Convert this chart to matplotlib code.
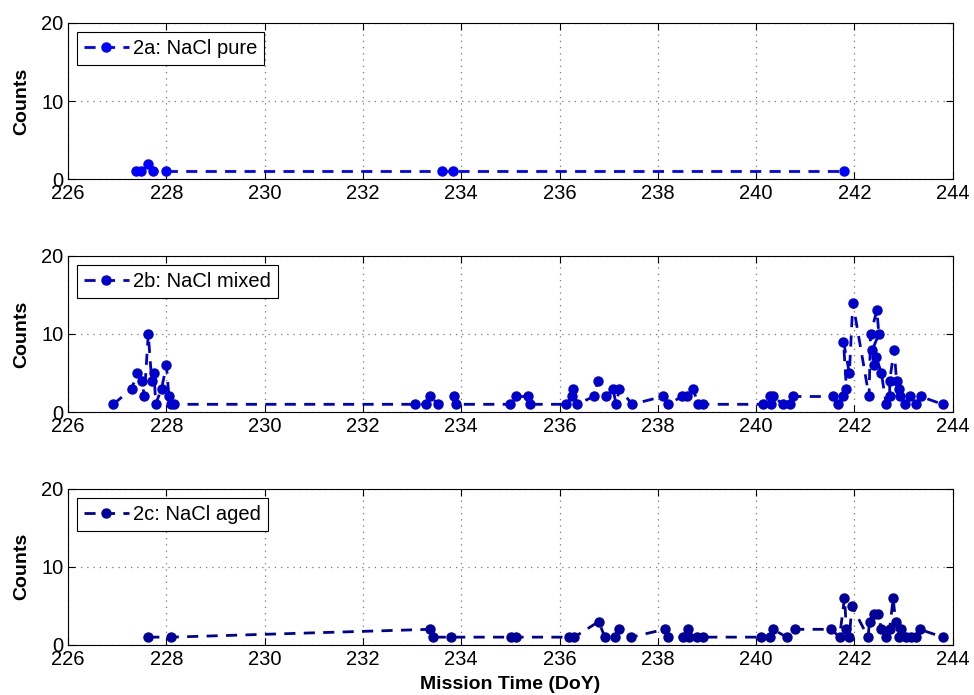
import matplotlib
matplotlib.use("Agg")
import matplotlib.pyplot as plt

plt.rcParams['font.family'] = ['Liberation Sans', 'DejaVu Sans']

# 2a: NaCl pure
doy_a = [227.38, 227.49, 227.63, 227.72, 228.0, 233.6, 233.83, 241.8]
cnt_a = [1, 1, 2, 1, 1, 1, 1, 1]

# 2b: NaCl mixed
doy_b = [226.92, 227.29, 227.41, 227.5, 227.55, 227.63, 227.7, 227.75, 227.78,
         227.9, 228.0, 228.05, 228.1, 228.15,
         233.05, 233.28, 233.37, 233.53, 233.85, 233.9,
         235.0, 235.12, 235.36, 235.4,
         236.14, 236.25, 236.28, 236.35, 236.7, 236.78, 236.95, 237.09, 237.15,
         237.22, 237.48,
         238.1, 238.2, 238.5, 238.6, 238.72, 238.82, 238.92,
         240.14, 240.28, 240.3, 240.35, 240.55, 240.7, 240.75,
         241.56, 241.67, 241.77, 241.84, 241.78, 241.9, 241.97,
         242.3, 242.33, 242.46, 242.5, 242.37, 242.41, 242.45, 242.55,
         242.65, 242.72, 242.72, 242.81, 242.86, 242.9, 242.93,
         243.03, 243.14, 243.26, 243.35, 243.8]
cnt_b = [1, 3, 5, 4, 2, 10, 4, 5, 1,
         3, 6, 2, 1, 1,
         1, 1, 2, 1, 2, 1,
         1, 2, 2, 1,
         1, 2, 3, 1, 2, 4, 2, 3, 1,
         3, 1,
         2, 1, 2, 2, 3, 1, 1,
         1, 2, 1, 2, 1, 1, 2,
         2, 1, 2, 3, 9, 5, 14,
         2, 10, 13, 10, 8, 6, 7, 5,
         1, 2, 4, 8, 4, 3, 2,
         1, 2, 1, 2, 1]

# 2c: NaCl aged
doy_c = [227.63, 228.1, 233.36, 233.43, 233.8,
         235.02, 235.12, 236.2, 236.3, 236.8, 236.92, 237.12, 237.22, 237.46,
         238.14, 238.2, 238.51, 238.61, 238.63, 238.79, 238.92,
         240.1, 240.28, 240.35, 240.62, 240.79,
         241.53, 241.7, 241.8, 241.84, 241.9, 241.95,
         242.28, 242.31, 242.41, 242.48, 242.55, 242.65, 242.72, 242.79,
         242.84, 242.9, 242.96, 243.06, 243.16, 243.26, 243.33, 243.8]
cnt_c = [1, 1, 2, 1, 1,
         1, 1, 1, 1, 3, 1, 1, 2, 1,
         2, 1, 1, 2, 1, 1, 1,
         1, 1, 2, 1, 2,
         2, 1, 6, 2, 1, 5,
         1, 3, 4, 4, 2, 1, 2, 6,
         3, 1, 2, 1, 1, 1, 2, 1]

series = [
    (doy_a, cnt_a, '2a: NaCl pure', '#0000ff'),
    (doy_b, cnt_b, '2b: NaCl mixed', '#0000cc'),
    (doy_c, cnt_c, '2c: NaCl aged', '#000099'),
]

fig = plt.figure(figsize=(9.74, 6.95), dpi=100)
bottoms = [0.742, 0.407, 0.072]
for (x, y, label, color), b in zip(series, bottoms):
    ax = fig.add_axes([0.070, b, 0.908, 0.225])
    ax.plot(x, y, '--o', color=color, lw=2, ms=6.5, dashes=(4, 3), label=label)
    ax.set_xlim(226, 244)
    ax.set_ylim(0, 20)
    ax.set_xticks(range(226, 245, 2))
    ax.set_yticks([0, 10, 20])
    ax.tick_params(direction='in', top=True, right=True, labelsize=14.5, length=5)
    ax.grid(True, linestyle=(0, (1, 4)), color='#777777', lw=0.9)
    ax.set_ylabel('Counts', fontsize=14, fontweight='bold', labelpad=8)
    leg = ax.legend(loc='upper left', fontsize=14.5, fancybox=False, framealpha=1,
                    edgecolor='black', handlelength=2.2, handletextpad=0.2,
                    borderaxespad=0.45, borderpad=0.35)
    leg.get_frame().set_linewidth(0.8)
    if b == bottoms[-1]:
        ax.set_xlabel('Mission Time (DoY)', fontsize=14, fontweight='bold', labelpad=5)

plt.savefig('out.png', dpi=100)
